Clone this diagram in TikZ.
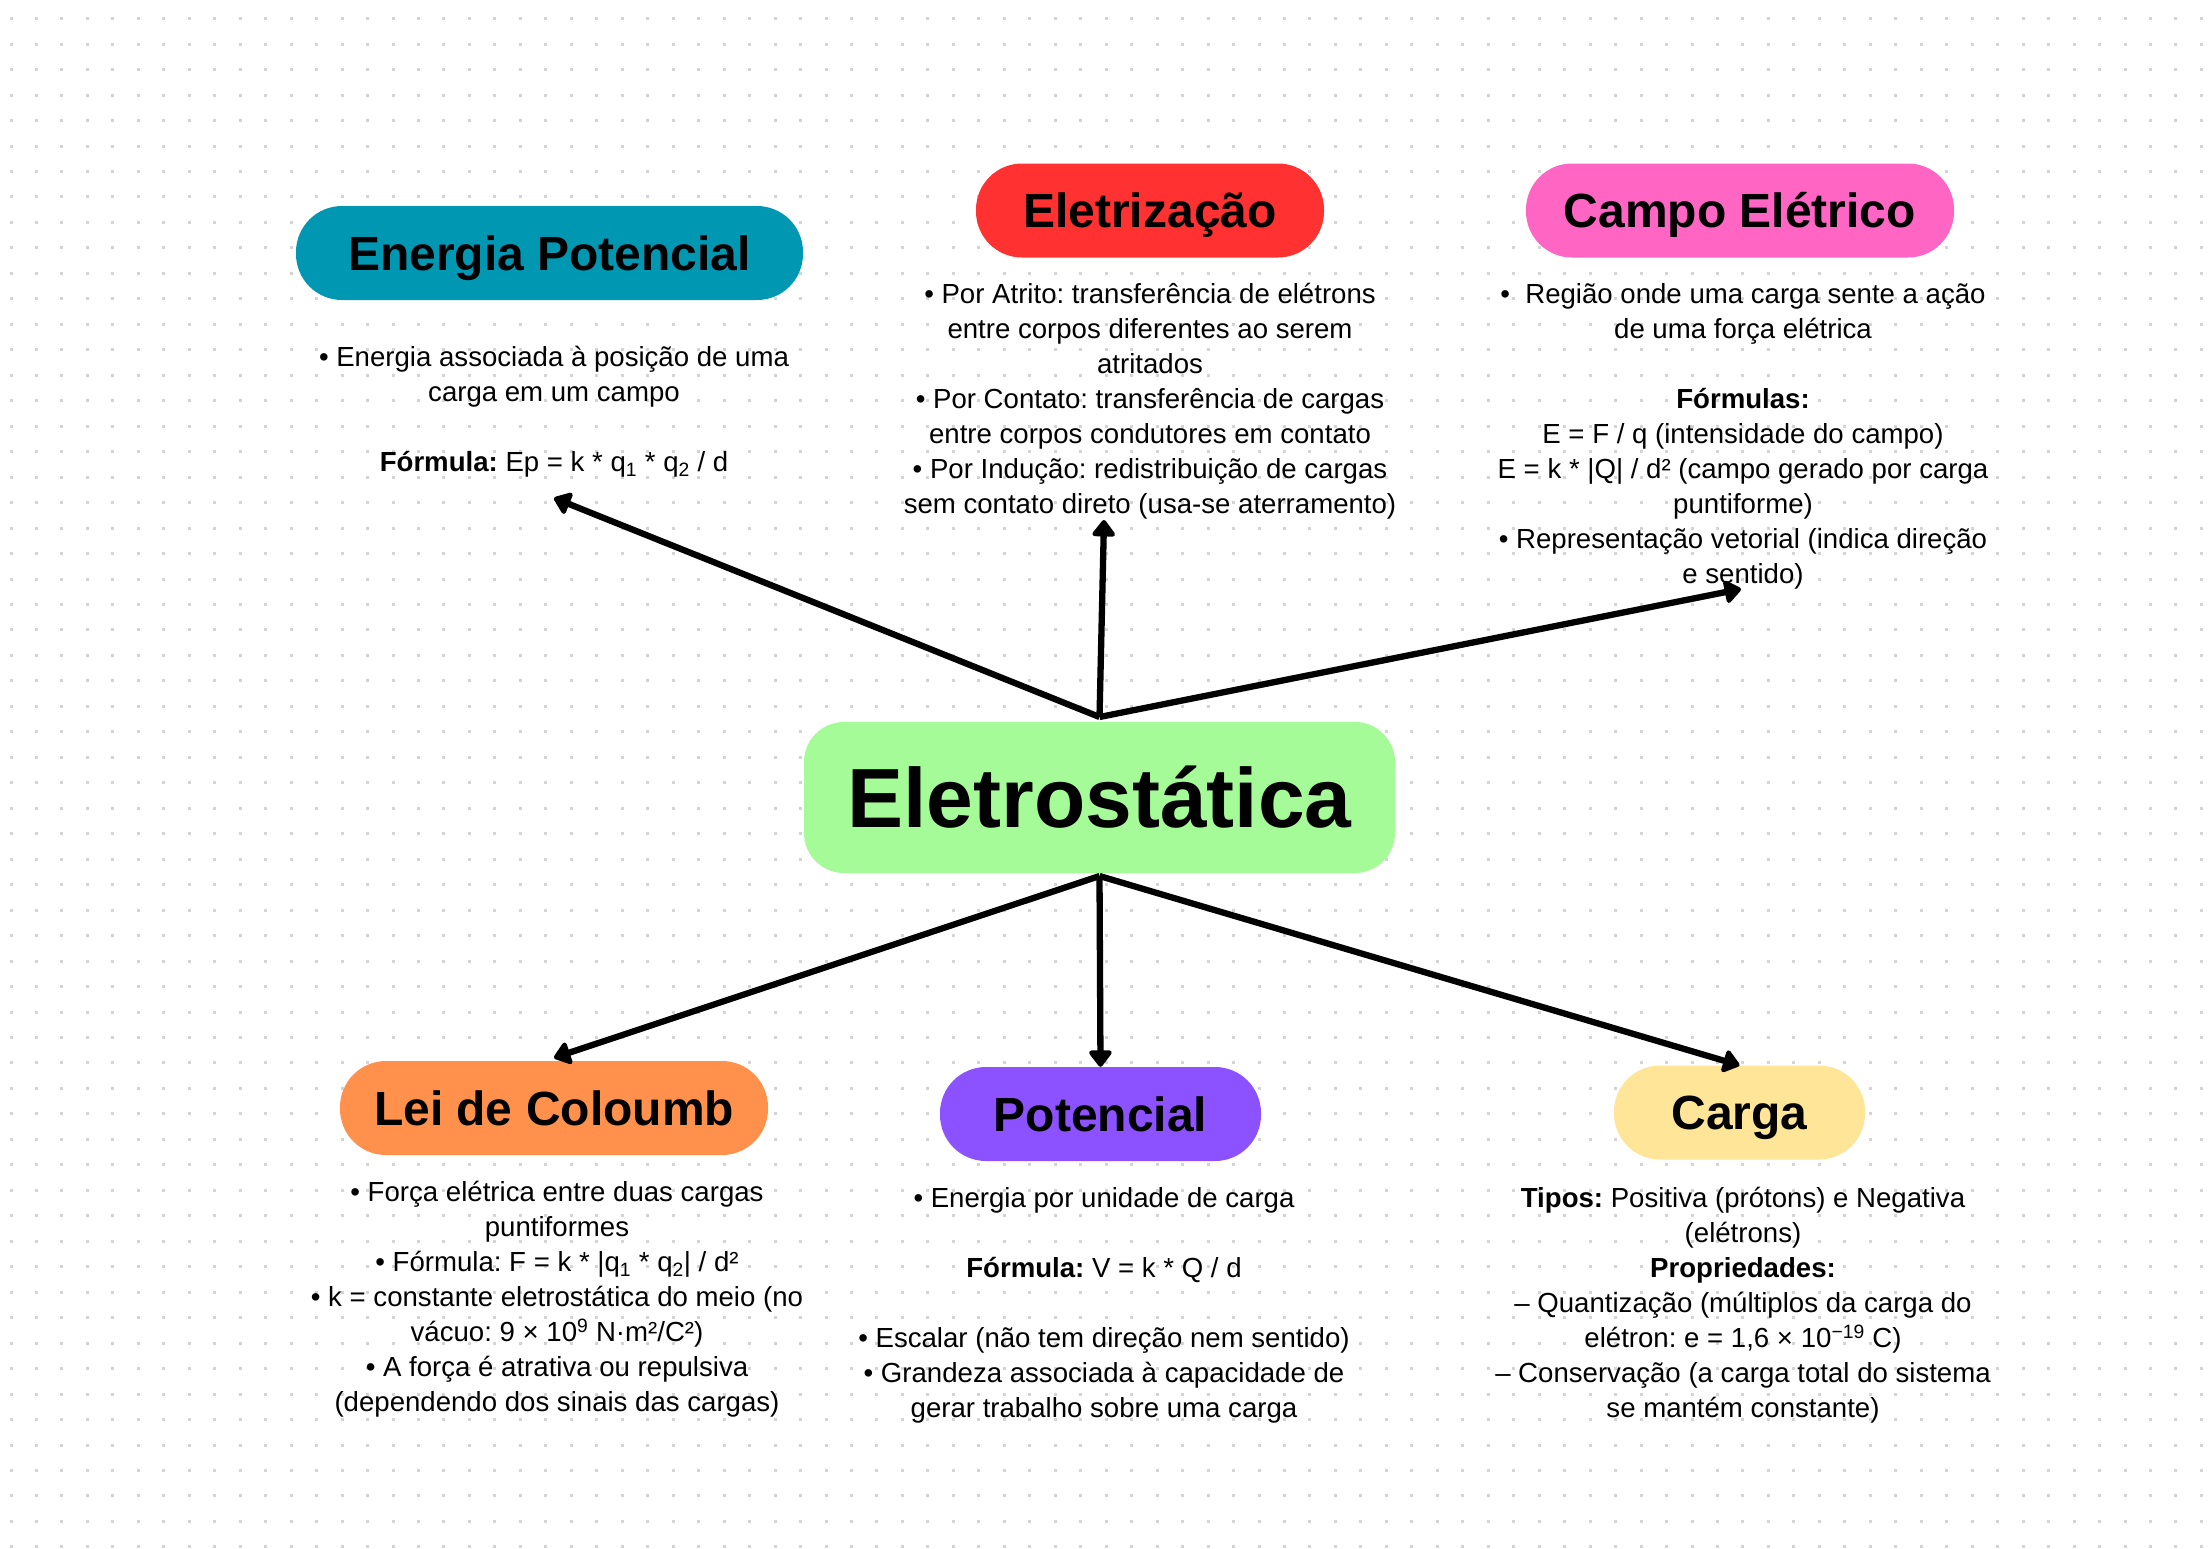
\documentclass[tikz,border=0pt]{standalone}
\usepackage{fontspec}
\setmainfont{Liberation Sans}
\usetikzlibrary{arrows.meta}
\definecolor{dotc}{RGB}{212,212,212}
\definecolor{tealc}{HTML}{0097B2}
\definecolor{redc}{HTML}{FF3131}
\definecolor{pinkc}{HTML}{FF66C4}
\definecolor{greenc}{HTML}{A5FB97}
\definecolor{orangec}{HTML}{FF914D}
\definecolor{purplec}{HTML}{8C52FF}
\definecolor{yellowc}{HTML}{FFE597}
\frenchspacing
\begin{document}
\begin{tikzpicture}[x=1pt,y=-1pt,
  pill/.style={rectangle, rounded corners=46pt, minimum height=94pt, inner sep=0pt,
    font=\fontsize{48}{56}\selectfont\bfseries, text height=34pt, text depth=0pt},
  body/.style={anchor=north, inner sep=0pt, align=center, font=\fontsize{27.6}{35}\selectfont},
  arr/.style={line width=6.3pt, -{Triangle[length=18pt,width=26pt,round]}},
]
\useasboundingbox (0,0) rectangle (2209,1548);
\fill[white] (0,0) rectangle (2209,1548);
% dot grid
\foreach \i in {0,...,86}{
  \foreach \j in {0,...,60}{
    \fill[dotc] ({11+25.47*\i-1.5},{18.7+25.47*\j-1.5}) rectangle ++(3,3);
  }
}
% central node
\node[rectangle, rounded corners=40pt, fill=greenc, minimum width=591pt, minimum height=151pt,
  inner sep=0pt, font=\fontsize{84}{90}\selectfont\bfseries, text height=60pt, text depth=0pt]
  (C) at (1099.5,797.5) {Eletrostática};
% pills
\node[pill, fill=tealc, minimum width=507pt] (EP) at (549.5,253) {Energia Potencial};
\node[pill, fill=redc, minimum width=348pt] (EZ) at (1150,210.5) {Eletrização};
\node[pill, fill=pinkc, minimum width=428pt] (CE) at (1740,210.5) {Campo Elétrico};
\node[pill, fill=orangec, minimum width=428pt] (LC) at (554,1108) {Lei de Coloumb};
\node[pill, fill=purplec, minimum width=321pt] (PO) at (1100.5,1114) {Potencial};
\node[pill, fill=yellowc, minimum width=251pt] (CA) at (1739.5,1112.5) {Carga};
% body texts
\node[body] (EPt) at (554,342) {\strut• Energia associada à posição de uma\\ carga em um campo\\[35pt] \textbf{Fórmula:} Ep = k * q\textsubscript{1} * q\textsubscript{2} / d};
\node[body] (EZt) at (1150,278.5) {\strut• Por Atrito: transferência de elétrons\\ entre corpos diferentes ao serem\\ atritados\\ • Por Contato: transferência de cargas\\ entre corpos condutores em contato\\ • Por Indução: redistribuição de cargas\\ sem contato direto (usa-se aterramento)};
\node[body] (CEt) at (1743,278.5) {\strut•~ Região onde uma carga sente a ação\\ de uma força elétrica\\[35pt] \textbf{Fórmulas:}\\ E = F / q (intensidade do campo)\\ E = k * |Q| / d² (campo gerado por carga\\ puntiforme)\\ • Representação vetorial (indica direção\\ e sentido)};
\node[body] (LCt) at (557,1177) {\strut• Força elétrica entre duas cargas\\ puntiformes\\ • Fórmula: F = k * |q\textsubscript{1} * q\textsubscript{2}| / d²\\ • k = constante eletrostática do meio (no\\ vácuo: 9 × 10\textsuperscript{9} N·m²/C²)\\ • A força é atrativa ou repulsiva\\ (dependendo dos sinais das cargas)};
\node[body] (POt) at (1104,1183) {\strut• Energia por unidade de carga\\[35pt] \textbf{Fórmula:} V = k * Q / d\\[35pt] • Escalar (não tem direção nem sentido)\\ • Grandeza associada à capacidade de\\ gerar trabalho sobre uma carga};
\node[body] (CAt) at (1743,1183) {\strut\textbf{Tipos:} Positiva (prótons) e Negativa\\ (elétrons)\\ \textbf{Propriedades:}\\ – Quantização (múltiplos da carga do\\ elétron: e = 1,6 × 10\textsuperscript{−19} C)\\ – Conservação (a carga total do sistema\\ se mantém constante)};
% arrow end points
\coordinate (epE) at (554,498);
\coordinate (ezE) at (1104,520);
\coordinate (ceE) at (1741,589);
\coordinate (ctop) at (1099.5,717);
\coordinate (cbot) at (1099.5,876);
% connectors
\draw[arr] (ctop) -- (epE);
\draw[arr] (ctop) -- (ezE);
\draw[arr] (ctop) -- (ceE);
\draw[arr] (cbot) -- ([yshift=3pt]LC.north);
\draw[arr] (cbot) -- (PO.north);
\draw[arr] (cbot) -- (CA.north);
\end{tikzpicture}
\end{document}
